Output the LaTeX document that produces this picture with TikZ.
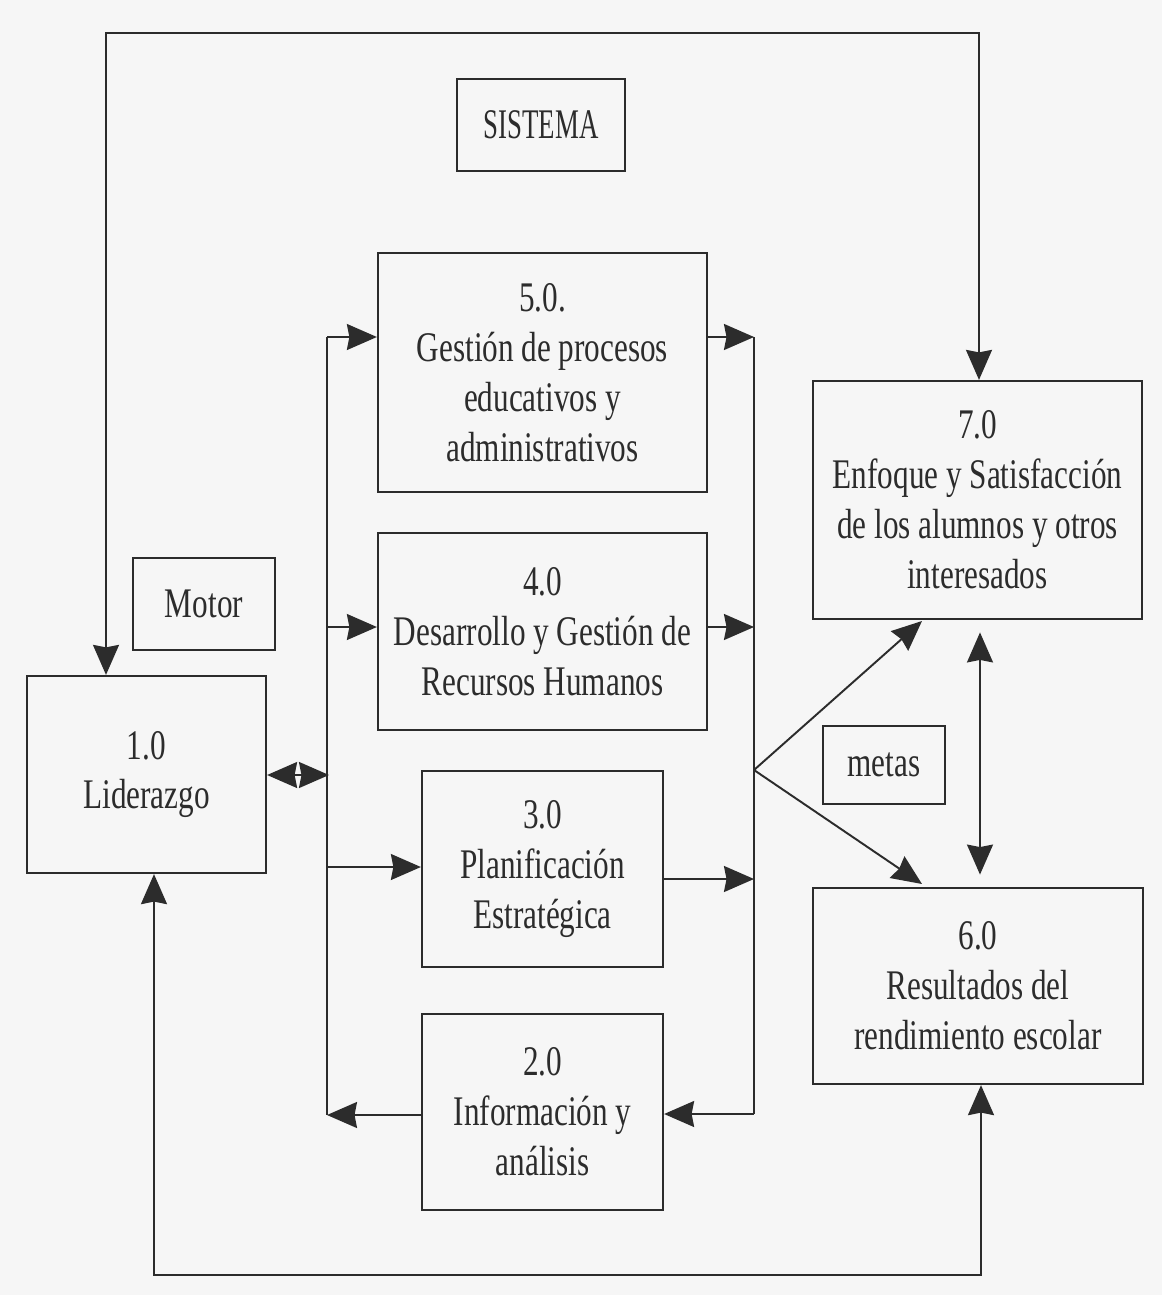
\documentclass[tikz,border=0pt]{standalone}
\usepackage{fontspec}
\setmainfont{Liberation Serif}[FakeStretch=0.74]
\usetikzlibrary{arrows.meta,calc}
\definecolor{ink}{RGB}{44,44,44}
\definecolor{paper}{RGB}{246,246,246}
\tikzset{
  box/.style={draw=ink, line width=1.3pt, inner sep=0pt, align=center, text=ink,
    font=\fontsize{24}{28.4}\selectfont},
  conn/.style={draw=ink, line width=1.1pt},
  tip/.style={},
  arr/.style={conn, -{Stealth[length=0.6cm, width=0.52cm, inset=0.05cm]}},
  darr/.style={conn, {Stealth[length=0.6cm, width=0.52cm, inset=0.05cm]}-{Stealth[length=0.6cm, width=0.52cm, inset=0.05cm]}},
}
\begin{document}
\begin{tikzpicture}[x=0.02cm, y=-0.02cm]
\fill[paper] (0,0) rectangle (1162,1295);
\useasboundingbox (0,0) rectangle (1162,1295);

% boxes
\node[box, minimum width=3.36cm, minimum height=1.84cm] (sis) at (541,125) {\scalebox{0.86}[1]{SISTEMA}};
\node[box, minimum width=6.58cm, minimum height=4.78cm] (n5) at (542.5,372.5) {5.0.\\Gestión de procesos\\educativos y\\administrativos};
\node[box, minimum width=6.58cm, minimum height=3.94cm] (n4) at (542.5,631.5) {4.0\\Desarrollo y Gestión de\\Recursos Humanos};
\node[box, minimum width=4.82cm, minimum height=3.92cm] (n3) at (542.5,869) {3.0\\Planificación\\Estratégica};
\node[box, minimum width=4.82cm, minimum height=3.92cm] (n2) at (542.5,1112) {2.0\\Información y\\análisis};
\node[box, minimum width=2.84cm, minimum height=1.84cm] (motor) at (204,604) {Motor};
\node[box, minimum width=4.78cm, minimum height=3.94cm] (n1) at (146.5,774.5) {1.0\\Liderazgo};
\node[box, minimum width=6.58cm, minimum height=4.76cm] (n7) at (977.5,500) {7.0\\Enfoque y Satisfacción\\de los alumnos y otros\\interesados};
\node[box, minimum width=6.60cm, minimum height=3.92cm] (n6) at (978,986) {6.0\\Resultados del\\rendimiento escolar};
\node[box, minimum width=2.44cm, minimum height=1.56cm] (metas) at (884,765) {metas};

% coordinates
\coordinate (tl) at (106,33);
\coordinate (tr) at (979,33);
\coordinate (bl) at (154,1275);
\coordinate (br) at (981,1275);
\coordinate (lbT) at (327,337);
\coordinate (l4) at (327,627);
\coordinate (l1) at (329,775);
\coordinate (l3) at (327,867);
\coordinate (lbB) at (327,1115);
\coordinate (rbT) at (754,337);
\coordinate (r4) at (754,627);
\coordinate (fork) at (754,770);
\coordinate (r3) at (754,879);
\coordinate (rbB) at (754,1114);
\coordinate (t7) at (922,621);
\coordinate (t6) at (922,884);
\coordinate (v) at (980,700);

% outer loops
\draw[darr] (n1.north -| tl) -- (tl) -- (tr) -- (tr |- n7.north);
\draw[darr] (n1.south -| bl) -- (bl) -- (br) -- (br |- n6.south);

% left bus
\draw[conn] (lbT) -- (lbB);
\draw[arr] (lbT) -- (lbT -| n5.west);
\draw[arr] (l4) -- (l4 -| n4.west);
\draw[arr] (l3) -- (l3 -| n3.west);
\draw[arr] (n2.west |- lbB) -- (lbB);
\draw[darr] (n1.east |- l1) -- (l1);

% right bus
\draw[conn] (rbT) -- (rbB);
\draw[arr] (n5.east |- rbT) -- (rbT);
\draw[arr] (n4.east |- r4) -- (r4);
\draw[arr] (n3.east |- r3) -- (r3);
\draw[arr] (rbB) -- (rbB -| n2.east);
\draw[arr] (fork) -- (t7);
\draw[arr] (fork) -- (t6);

% 7 <-> 6
\draw[darr, shorten <=7pt, shorten >=7pt] (n7.south -| v) -- (n6.north -| v);
\end{tikzpicture}
\end{document}
